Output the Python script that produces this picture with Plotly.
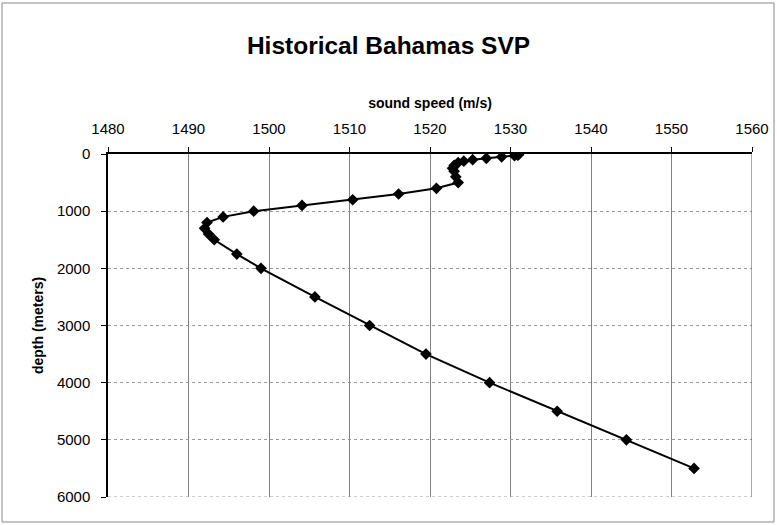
"""
plot.py

Historical Bahamas sound velocity profile.
"""

import plotly.graph_objects as go

depth_m = [
    0, 10, 20, 30, 50, 75, 100, 125, 150, 200, 250, 300, 400, 500,
    600, 700, 800, 900, 1000, 1100, 1200, 1300, 1400, 1500, 1750,
    2000, 2500, 3000, 3500, 4000, 4500, 5000, 5500,
]
sound_speed = [
    1531.0, 1531.0, 1530.9, 1530.5, 1528.9, 1527.0, 1525.3, 1524.2,
    1523.5, 1523.0, 1522.8, 1523.0, 1523.2, 1523.5,
    1520.8, 1516.1, 1510.4, 1504.1, 1498.1, 1494.3, 1492.3, 1492.0,
    1492.5, 1493.2, 1496.0,
    1499.0, 1505.7, 1512.5, 1519.5, 1527.4, 1535.8, 1544.4, 1552.8,
]

x_ticks = list(range(1480, 1561, 10))
y_ticks = list(range(0, 6001, 1000))

font = "Liberation Sans, Arial, sans-serif"

fig = go.Figure()

fig.add_trace(
    go.Scatter(
        x=sound_speed,
        y=depth_m,
        mode="lines+markers",
        line=dict(color="black", width=2),
        marker=dict(symbol="diamond", size=9, color="black"),
        showlegend=False,
    )
)

fig.update_layout(
    width=777,
    height=525,
    margin=dict(l=108, r=25, t=154, b=28, autoexpand=False),
    paper_bgcolor="white",
    plot_bgcolor="white",
    font=dict(family=font, color="black", size=15),
    title=dict(
        text="<b>Historical Bahamas SVP</b>",
        x=0.5,
        xanchor="center",
        y=1 - 45 / 525,
        yanchor="middle",
        font=dict(size=24.5, family=font),
    ),
)

fig.update_xaxes(
    side="top",
    range=[1480, 1560],
    tickvals=x_ticks,
    ticks="outside",
    ticklen=5,
    tickcolor="black",
    ticklabelstandoff=7,
    automargin=False,
    showline=True,
    linecolor="black",
    linewidth=1.5,
    showgrid=True,
    gridcolor="#808080",
    gridwidth=1,
    zeroline=False,
    title=dict(text="<b>sound speed (m/s)</b>", font=dict(size=14), standoff=8),
)

fig.update_yaxes(
    range=[6000, 0],
    tickvals=y_ticks,
    ticks="outside",
    ticklen=5,
    tickcolor="black",
    ticklabelstandoff=8,
    automargin=False,
    showline=True,
    linecolor="black",
    linewidth=1.5,
    showgrid=True,
    gridcolor="#999999",
    griddash="dot",
    gridwidth=1,
    zeroline=False,
    title=dict(text="<b>depth (meters)</b>", font=dict(size=14), standoff=10),
)

# right edge of the plot area
fig.add_shape(
    type="line", xref="x", yref="paper",
    x0=1560, x1=1560, y0=0, y1=1,
    line=dict(color="#555555", width=1),
)

# dotted line along the bottom of the plot area
fig.add_shape(
    type="line", xref="paper", yref="y",
    x0=0, x1=1, y0=6000, y1=6000,
    line=dict(color="#999999", width=1, dash="dot"),
)

# chart border
fig.add_shape(
    type="rect", xref="paper", yref="paper",
    x0=-106 / 644, x1=1 + 22 / 644, y0=-25 / 343, y1=1 + 151 / 343,
    line=dict(color="#888888", width=1),
)

fig.write_html(
    "out.html",
    config={"displayModeBar": False},
    post_script="document.body.style.margin='0';",
)
